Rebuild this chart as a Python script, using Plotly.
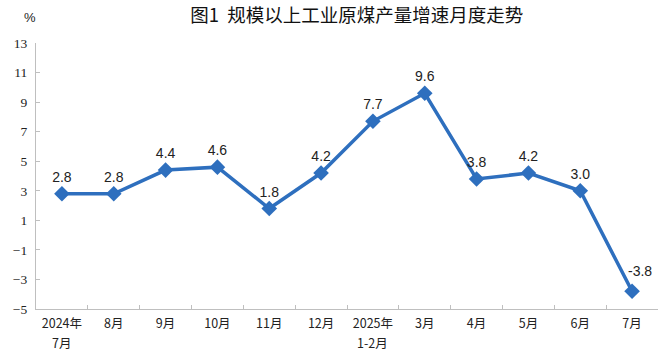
import plotly.graph_objects as go

categories = ["2024年7月", "8月", "9月", "10月", "11月", "12月", "2025年1-2月",
              "3月", "4月", "5月", "6月", "7月"]
tick_top = ["2024年", "8月", "9月", "10月", "11月", "12月", "2025年",
            "3月", "4月", "5月", "6月", "7月"]
tick_bottom = ["7月", "", "", "", "", "", "1-2月", "", "", "", "", ""]
values = [2.8, 2.8, 4.4, 4.6, 1.8, 4.2, 7.7, 9.6, 3.8, 4.2, 3.0, -3.8]
labels = [f"{v:.1f}" for v in values]
y_ticks = list(range(-5, 14, 2))

blue = "#2E6FBE"
axis_grey = "#BFBFBF"
label_font = dict(family="Liberation Sans, Arial", size=14, color="#222222")
tick_font = dict(family="Noto Sans CJK SC", size=12.5, color="#222222")

fig = go.Figure()
fig.add_trace(go.Scatter(
    x=categories, y=values, mode="lines+markers+text",
    line=dict(color=blue, width=3.5),
    marker=dict(symbol="diamond", size=12, color=blue),
    text=labels[:-1] + [""], textposition="top center",
    textfont=label_font,
    cliponaxis=False, showlegend=False,
))

annotations = [dict(text="%", xref="paper", yref="paper", x=-0.01, y=1.0,
                    yshift=26, xanchor="center", yanchor="middle", showarrow=False,
                    font=dict(family="Liberation Sans", size=13, color="#222222"))]
annotations.append(dict(x=categories[-1], y=values[-1], text=labels[-1], showarrow=False,
                        xanchor="center", yanchor="bottom", xshift=8, yshift=10,
                        font=label_font))
for cat, sub in zip(categories, tick_bottom):
    if sub:
        annotations.append(dict(x=cat, xref="x", yref="paper", y=0, text=sub,
                                showarrow=False, xanchor="center", yanchor="middle",
                                yshift=-33, borderpad=0, font=tick_font))

fig.update_layout(
    width=667, height=351,
    margin=dict(l=36, r=9, t=43, b=42, autoexpand=False),
    paper_bgcolor="white", plot_bgcolor="white",
    title=dict(text="图1  规模以上工业原煤产量增速月度走势", x=0.535, xanchor="center",
               y=0.955, yanchor="middle",
               font=dict(family="Noto Sans CJK SC", size=18.5, color="#111111")),
    annotations=annotations,
)
fig.update_xaxes(
    type="category", range=[-0.5, len(categories) - 0.5],
    tickmode="array", tickvals=categories, ticktext=tick_top,
    tickson="boundaries", ticks="inside", ticklen=4,
    tickcolor=axis_grey, showline=True, linecolor=axis_grey, linewidth=1.2,
    showgrid=False, automargin=False, ticklabelstandoff=3,
    tickfont=tick_font,
)
fig.update_yaxes(
    range=[-5, 13], tickvals=y_ticks, ticks="inside", ticklen=4,
    tickcolor=axis_grey, showline=True, linecolor=axis_grey, linewidth=1.2,
    showgrid=False, zeroline=False, automargin=False, ticklabelstandoff=5,
    tickfont=dict(family="Liberation Serif", size=13.5, color="#222222"),
)

fig.write_html("out.html")
